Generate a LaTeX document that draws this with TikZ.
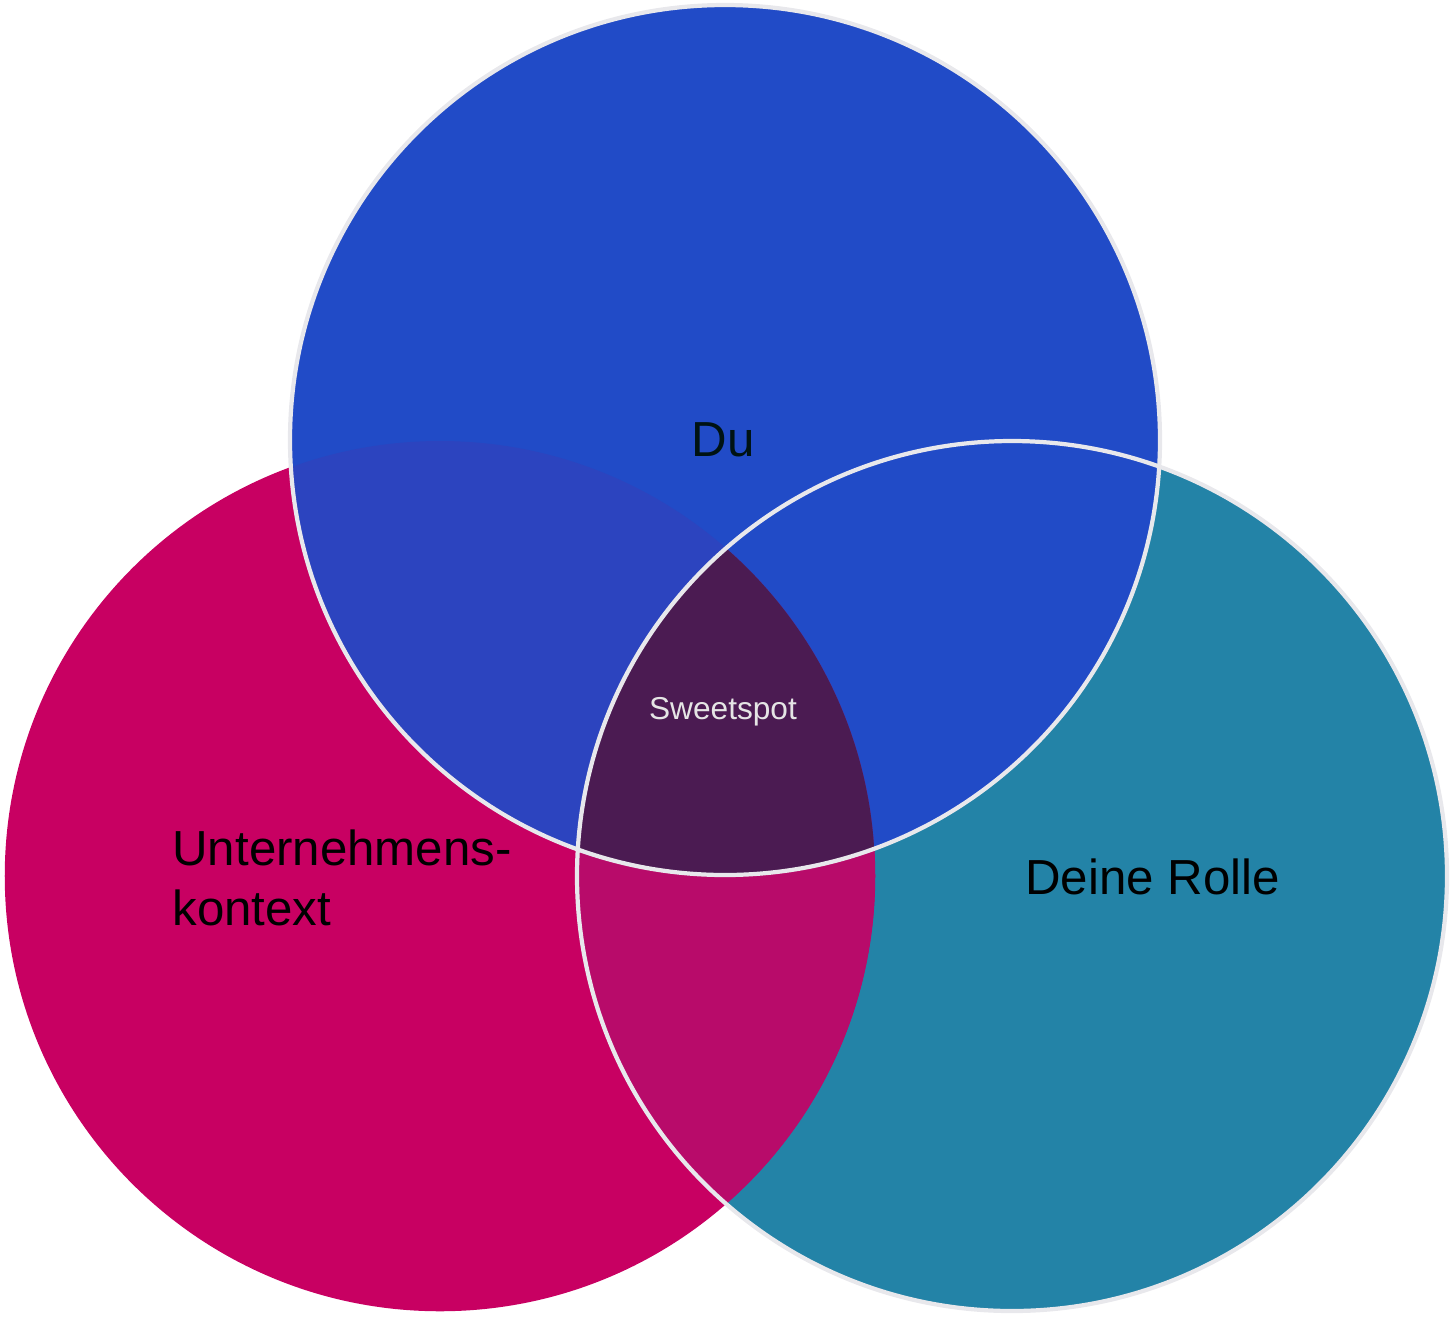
\documentclass[tikz,border=0pt]{standalone}
\usepackage{fontspec}
\setmainfont{Liberation Sans}
\definecolor{duBlue}{HTML}{214BC7}
\definecolor{ctxRed}{HTML}{C80062}
\definecolor{roleTeal}{HTML}{2383A7}
\definecolor{redTeal}{HTML}{B80B6A}
\definecolor{blueRed}{HTML}{2C44BF}
\definecolor{sweet}{HTML}{4B1B52}
\definecolor{edge}{HTML}{E8E8EC}
\begin{document}
\begin{tikzpicture}[x=0.01cm, y=-0.01cm]
\tikzset{
  ring/.style={circle, minimum size=8.7cm, inner sep=0pt},
  rim/.style={draw=edge, line width=1.2pt},
  label/.style={font=\fontsize{14}{17}\selectfont, align=left}
}
\useasboundingbox (0,0) rectangle (1451,1317);
% Circles
\node[ring, fill=roleTeal] (role) at (1012,876) {};
\node[ring, fill=ctxRed] (ctx) at (440,876) {};
\node[ring, fill=duBlue] (du) at (725,440) {};
% Overlaps
\begin{scope}
  \clip (ctx.center) circle (435);
  \fill[redTeal] (role.center) circle (435);
  \fill[blueRed] (du.center) circle (435);
  \clip (role.center) circle (435);
  \fill[sweet] (du.center) circle (435);
\end{scope}
% Outlines
\draw[rim] (role.center) circle (435);
\draw[rim] (du.center) circle (435);
% Labels
\node[label, text=black!85!teal] (duText) at (723,440) {Du};
\node[label, anchor=west] (roleText) at (1013,877) {Deine Rolle};
\node[label, anchor=west] (ctxText) at (160,878) {Unternehmens-\\kontext};
\node[font=\fontsize{9}{11}\selectfont, text=white!80!gray] (sweetText) at (723,712) {Sweetspot};
\end{tikzpicture}
\end{document}
